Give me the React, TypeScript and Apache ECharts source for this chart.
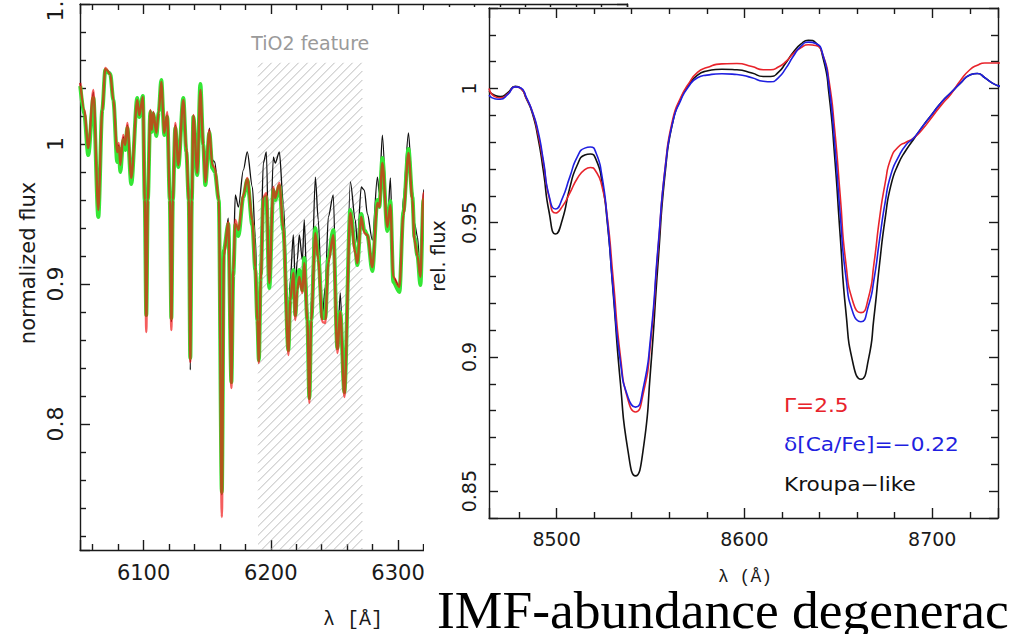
import { useEffect, useRef } from "react";
import * as echarts from "echarts";

// ---- Left panel: optical region around the TiO2 band (Å, normalized flux) ----
const optWave = [
  6050.2, 6053.4, 6056.5, 6060.5, 6064.4, 6067.5, 6069.9, 6073.8, 6076.2, 6079.3,
  6080.5, 6081.7, 6084.0, 6085.6, 6087.2, 6090.3, 6095.0, 6096.6, 6099.4, 6100.9,
  6102.1, 6103.3, 6105.3, 6106.4, 6107.6, 6110.0, 6111.9, 6113.9, 6116.3, 6118.6,
  6120.6, 6121.8, 6123.0, 6124.9, 6127.3, 6131.2, 6133.6, 6135.5, 6136.7, 6137.9,
  6139.1, 6142.2, 6144.6, 6146.9, 6148.5, 6151.7, 6154.0, 6156.0, 6159.1, 6161.5,
  6163.1, 6166.6, 6169.0, 6170.5, 6172.1, 6174.5, 6178.4, 6181.5, 6185.5, 6187.8,
  6189.4, 6190.6, 6192.1, 6194.1, 6196.5, 6198.8, 6202.0, 6203.5, 6206.7, 6209.8,
  6213.8, 6215.3, 6217.7, 6219.3, 6220.8, 6222.4, 6224.8, 6226.3, 6228.7, 6230.3,
  6231.8, 6235.0, 6237.3, 6240.5, 6242.8, 6245.2, 6249.1, 6252.3, 6254.6, 6257.8,
  6262.5, 6266.4, 6268.0, 6271.1, 6273.5, 6275.9, 6279.8, 6283.8, 6285.3, 6287.7,
  6291.6, 6294.0, 6296.3, 6301.1, 6304.2, 6308.2, 6311.3, 6312.9, 6315.3, 6317.6,
  6320.0, 6325.0, 6330.0,
];
const optBlack = [
  1.0436, 1.0243, 0.9957, 1.0371, 0.9507, 1.0243, 1.0529, 1.0514, 1.0314, 0.9907,
  0.9993, 0.9836, 1.005, 0.9979, 1.0136, 0.9743, 1.0314, 1.0193, 1.0336, 0.96,
  0.8779, 0.96, 1.0243, 1.01, 1.0229, 1.0064, 1.0243, 1.0443, 1.0079, 1.0207,
  0.96, 0.8729, 0.96, 1.0136, 0.9864, 1.0314, 0.9957, 0.96, 0.8386, 0.96,
  1.0207, 0.9793, 1.04, 1.0029, 0.9743, 1.0114, 0.9886, 0.9871, 0.96, 0.7493,
  0.9243, 0.9471, 0.8314, 0.9171, 0.9636, 0.955, 0.9814, 0.9943, 0.9693, 0.9336,
  0.8886, 0.8443, 0.9243, 0.9864, 0.9943, 0.9007, 0.9907, 0.9864, 0.9943, 0.9579,
  0.8743, 0.9029, 0.935, 0.8979, 0.9171, 0.935, 0.9171, 0.9457, 0.8886, 0.8207,
  0.8886, 0.9764, 0.9457, 0.8764, 0.8979, 0.9479, 0.9636, 0.8543, 0.8936, 0.8229,
  0.9729, 0.9457, 0.9293, 0.9693, 0.9671, 0.95, 0.9314, 0.9764, 0.965, 1.0064,
  0.9407, 0.9757, 0.905, 0.8979, 0.9621, 1.0079, 0.9671, 0.9436, 0.9336, 0.905,
  0.9671, 0.97, 0.95,
];
const optRed = [
  1.0436, 1.0243, 0.9971, 1.0386, 0.9529, 1.0243, 1.0543, 1.05, 1.0314, 0.9943,
  1.0007, 0.985, 1.0064, 0.9993, 1.015, 0.9757, 1.0314, 1.0207, 1.0336, 0.96,
  0.8657, 0.96, 1.0243, 1.01, 1.0229, 1.0079, 1.0229, 1.0443, 1.0079, 1.0229,
  0.96, 0.8671, 0.96, 1.015, 0.985, 1.0314, 0.9971, 0.96, 0.8443, 0.96,
  1.0207, 0.9793, 1.0386, 0.9993, 0.9729, 1.01, 0.985, 0.9829, 0.96, 0.7336,
  0.9207, 0.9443, 0.8257, 0.91, 0.9457, 0.9386, 0.9636, 0.9757, 0.9457, 0.9121,
  0.8743, 0.8436, 0.9029, 0.9621, 0.965, 0.9007, 0.9693, 0.9614, 0.9721, 0.9407,
  0.8493, 0.8886, 0.9079, 0.8743, 0.8957, 0.905, 0.8936, 0.915, 0.8743, 0.815,
  0.8743, 0.9364, 0.9171, 0.8729, 0.8721, 0.915, 0.935, 0.8507, 0.88, 0.8193,
  0.9507, 0.9221, 0.915, 0.9479, 0.9364, 0.935, 0.9121, 0.9579, 0.955, 0.9864,
  0.9407, 0.9564, 0.905, 0.8979, 0.9493, 0.9936, 0.96, 0.9314, 0.92, 0.905,
  0.965, 0.96, 0.94,
];
const optGreen = [
  1.0414, 1.0207, 0.9921, 1.0329, 0.9479, 1.0243, 1.0529, 1.05, 1.0314, 0.9871,
  0.9971, 0.98, 1.0029, 0.9957, 1.0114, 0.9714, 1.0329, 1.0193, 1.0343, 0.96,
  0.8779, 0.96, 1.0229, 1.0086, 1.0214, 1.0057, 1.0229, 1.0457, 1.0064, 1.0193,
  0.96, 0.8757, 0.96, 1.0114, 0.9836, 1.0329, 0.9943, 0.96, 0.8471, 0.96,
  1.0193, 0.9779, 1.0429, 0.9993, 0.9707, 1.0079, 0.9829, 0.98, 0.96, 0.7514,
  0.9243, 0.9429, 0.83, 0.9064, 0.9421, 0.9343, 0.9621, 0.9743, 0.9421, 0.91,
  0.8743, 0.8457, 0.9064, 0.96, 0.9621, 0.8971, 0.9671, 0.96, 0.97, 0.9386,
  0.8529, 0.8886, 0.91, 0.8779, 0.8993, 0.91, 0.8957, 0.9186, 0.8743, 0.8186,
  0.8743, 0.94, 0.92, 0.8757, 0.8757, 0.9186, 0.9386, 0.8543, 0.88, 0.8229,
  0.9529, 0.925, 0.9136, 0.95, 0.9386, 0.935, 0.9093, 0.96, 0.955, 0.99,
  0.9379, 0.9593, 0.9014, 0.8943, 0.9514, 0.9964, 0.9621, 0.9336, 0.92, 0.8993,
  0.96, 0.955, 0.94,
];
const tioBand = [6190, 6272];
const tioTop = 1.058;
const tioLabel = "TiO2 feature";

// ---- Right panel: Ca II triplet (Å, relative flux) ----
const catWave = [
  8464, 8467, 8470, 8474, 8478, 8481, 8484, 8487, 8490, 8493, 8496, 8499.5, 8503,
  8507, 8511, 8515, 8518, 8521, 8524, 8527, 8530, 8534, 8538, 8542, 8546, 8550,
  8554, 8558, 8562, 8566, 8570, 8575, 8580, 8588, 8596, 8604, 8610, 8614, 8618,
  8622, 8626, 8630, 8634, 8638, 8642, 8645, 8648, 8651, 8654, 8658, 8662, 8666,
  8669, 8672, 8675, 8678, 8682, 8686, 8690, 8695, 8700, 8705, 8710, 8715, 8720,
  8724, 8728, 8732, 8736,
];
const catKroupa = [
  0.999, 0.9975, 0.997, 0.9985, 1.0008, 1.0, 0.996, 0.991, 0.982, 0.969, 0.954, 0.9458, 0.951,
  0.963, 0.9715, 0.9752, 0.9756, 0.9735, 0.966, 0.95, 0.925, 0.89, 0.865, 0.8557, 0.865, 0.895,
  0.935, 0.97, 0.988, 0.996, 1.001, 1.005, 1.0065, 1.0072, 1.007, 1.0058, 1.0045, 1.0045, 1.006,
  1.0095, 1.0135, 1.0165, 1.018, 1.017, 1.011, 0.998, 0.975, 0.945, 0.917, 0.897, 0.8917, 0.899,
  0.915, 0.935, 0.952, 0.964, 0.972, 0.977, 0.981, 0.986, 0.9905, 0.995, 0.9985, 1.002, 1.005,
  1.0056, 1.004, 1.002, 1.0008,
];
const catGamma = [
  1.0, 0.997, 0.9965, 0.998, 1.0006, 1.0, 0.9962, 0.9915, 0.9835, 0.972, 0.9595, 0.9536, 0.956,
  0.961, 0.9665, 0.9698, 0.9706, 0.969, 0.964, 0.952, 0.93, 0.9, 0.884, 0.8795, 0.886, 0.905,
  0.94, 0.972, 0.989, 0.9965, 1.0015, 1.006, 1.0078, 1.0092, 1.0093, 1.0082, 1.007, 1.007, 1.008,
  1.01, 1.013, 1.0152, 1.0163, 1.016, 1.012, 1.003, 0.985, 0.96, 0.935, 0.92, 0.9165, 0.922,
  0.935, 0.952, 0.965, 0.974, 0.9783, 0.98, 0.9815, 0.985, 0.9895, 0.994, 0.998, 1.003, 1.007,
  1.0087, 1.0095, 1.0095, 1.0095,
];
const catCaFe = [
  0.9975, 0.9962, 0.996, 0.9978, 1.0006, 1.0002, 0.9965, 0.9915, 0.9845, 0.973, 0.96, 0.9551, 0.959,
  0.967, 0.9745, 0.9778, 0.9782, 0.976, 0.968, 0.951, 0.926, 0.898, 0.885, 0.8813, 0.888, 0.907,
  0.941, 0.9715, 0.988, 0.9955, 1.0005, 1.004, 1.005, 1.0055, 1.0052, 1.004, 1.0027, 1.0025, 1.004,
  1.0075, 1.012, 1.0157, 1.0173, 1.0168, 1.012, 1.001, 0.98, 0.953, 0.93, 0.916, 0.9131, 0.919,
  0.929, 0.944, 0.958, 0.968, 0.9745, 0.979, 0.9815, 0.986, 0.9905, 0.995, 0.9985, 1.002, 1.005,
  1.0056, 1.004, 1.002, 1.0008,
];
const catLegend = ["Γ=2.5", "δ[Ca/Fe]=−0.22", "Kroupa−like"];
const catColors = ["#e8232b", "#1f1fe0", "#111111"];

const leftX = { min: 6050, max: 6480 };
const leftY = { min: 0.71, max: 1.1 };
const rightX = { min: 8464, max: 8735 };
const rightY = { min: 0.84, max: 1.03 };

const ink = "#1a1a1a";
const sans = "DejaVu Sans";
const mono = "Liberation Mono";

const pairs = (xs: number[], ys: number[]) => xs.map((x, i) => [x, ys[i]]);

function frameAxis(
  kind: "x" | "y",
  grid: number,
  position: string,
  range: { min: number; max: number },
  splitNumber: number,
  labels: null | { fontSize: number; margin: number; fmt: (v: number) => string },
  z: number,
  tickLen: number,
  minorLen: number
) {
  const line = { color: ink, width: 1.4 };
  return {
    type: "value",
    gridIndex: grid,
    position,
    min: range.min,
    max: range.max,
    splitNumber,
    z,
    axisLine: { show: true, onZero: false, lineStyle: line },
    axisTick: { show: true, inside: true, length: tickLen, lineStyle: line },
    minorTick: { show: true, splitNumber: 5, length: minorLen, lineStyle: line },
    splitLine: { show: false },
    minorSplitLine: { show: false },
    axisLabel: labels
      ? {
          show: true,
          rotate: kind === "y" ? 90 : 0,
          margin: labels.margin,
          fontSize: labels.fontSize,
          fontFamily: sans,
          color: ink,
          formatter: labels.fmt,
        }
      : { show: false },
  };
}

const fmtLeftX = (v: number) => (Math.abs(v % 100) < 1e-6 ? String(Math.round(v)) : "");
const fmtLeftY = (v: number) => {
  const r = Math.round(v * 100);
  return r % 10 === 0 && Math.abs(v * 100 - r) < 1e-6 ? String(r / 100) : "";
};
const fmtRightY = (v: number) => {
  const r = Math.round(v * 100);
  return r % 5 === 0 && Math.abs(v * 100 - r) < 1e-6 ? String(r / 100) : "";
};

export default function App() {
  const ref = useRef<HTMLDivElement>(null);

  useEffect(() => {
    if (!ref.current) return;
    const chart = echarts.init(ref.current, undefined, { renderer: "svg" });

    // Diagonal hatching over the TiO2 band, plus its caption above the band
    const hatch = {
      type: "custom",
      xAxisIndex: 0,
      yAxisIndex: 0,
      z: 1,
      silent: true,
      encode: { x: [0, 1], y: 2 },
      data: [[tioBand[0], tioBand[1], tioTop]],
      renderItem: (_p: any, api: any) => {
        const a = api.coord([api.value(0), api.value(2)]);
        const b = api.coord([api.value(1), leftY.min]);
        const x0 = a[0];
        const x1 = b[0];
        const t = a[1];
        const bt = b[1];
        const step = 9;
        const children: any[] = [];
        for (let k = x0 + t + step / 2; k < x1 + bt; k += step) {
          const xs = Math.max(x0, k - bt);
          const xe = Math.min(x1, k - t);
          if (xe <= xs) continue;
          children.push({
            type: "line",
            shape: { x1: xs, y1: k - xs, x2: xe, y2: k - xe },
            style: { stroke: "#b4b4b4", lineWidth: 0.9 },
          });
        }
        children.push({
          type: "text",
          x: (x0 + x1) / 2,
          y: t - 10,
          style: {
            text: tioLabel,
            fontSize: 19,
            fontFamily: sans,
            fill: "#9a9a9a",
            align: "center",
            verticalAlign: "bottom",
          },
        });
        return { type: "group", children };
      },
    };

    const leftLine = (data: number[], color: string, width: number, z: number, opacity = 1) => ({
      type: "line",
      xAxisIndex: 0,
      yAxisIndex: 0,
      data: pairs(optWave, data),
      showSymbol: false,
      symbol: "none",
      smooth: 0.3,
      smoothMonotone: "x",
      z,
      lineStyle: { color, width, opacity },
    });

    const rightLine = (data: number[], color: string, z: number) => ({
      type: "line",
      xAxisIndex: 2,
      yAxisIndex: 2,
      data: pairs(catWave, data),
      showSymbol: false,
      symbol: "none",
      smooth: 0.6,
      z,
      lineStyle: { color, width: 1.6 },
    });

    chart.setOption({
      animation: false,
      backgroundColor: "#ffffff",
      textStyle: { fontFamily: sans },
      grid: [
        { left: 80, top: 4, width: 547, height: 546, outerBoundsMode: "none", containLabel: false },
        { left: 489, top: 8, width: 509, height: 510, outerBoundsMode: "none", containLabel: false },
      ],
      xAxis: [
        frameAxis("x", 0, "bottom", leftX, 4, { fontSize: 21, margin: 12, fmt: fmtLeftX }, 0, 10, 6),
        frameAxis("x", 0, "top", leftX, 4, null, 0, 10, 6),
        frameAxis("x", 1, "bottom", rightX, 3, { fontSize: 19, margin: 11, fmt: fmtLeftX }, 10, 10, 6),
        frameAxis("x", 1, "top", rightX, 3, null, 10, 10, 6),
      ],
      yAxis: [
        frameAxis("y", 0, "left", leftY, 4, { fontSize: 22, margin: 14, fmt: fmtLeftY }, 0, 10, 6),
        frameAxis("y", 0, "right", leftY, 4, null, 0, 10, 6),
        frameAxis("y", 1, "left", rightY, 4, { fontSize: 19, margin: 11, fmt: fmtRightY }, 10, 9, 7),
        frameAxis("y", 1, "right", rightY, 4, null, 10, 9, 7),
      ],
      series: [
        hatch,
        leftLine(optBlack, "#111111", 1.3, 2),
        leftLine(optGreen, "#35e635", 4, 3),
        leftLine(optRed, "#f01010", 2.4, 4, 0.68),
        rightLine(catKroupa, catColors[2], 10),
        rightLine(catGamma, catColors[0], 11),
        rightLine(catCaFe, catColors[1], 12),
      ],
      graphic: {
        elements: [
          {
            type: "text",
            x: 28,
            y: 263,
            rotation: Math.PI / 2,
            z: 10,
            style: { text: "normalized flux", fontSize: 21, fontFamily: sans, fill: ink, align: "center", verticalAlign: "middle" },
          },
          {
            type: "text",
            x: 353,
            y: 619,
            z: 10,
            style: { text: "λ [Å]", fontSize: 20, fontFamily: mono, fill: ink, align: "center", verticalAlign: "middle" },
          },
          {
            // white backing of the Ca II panel, laid over the optical panel
            type: "rect",
            z: 5,
            silent: true,
            shape: { x: 424, y: 7, width: 600, height: 640 },
            style: { fill: "#ffffff" },
          },
          {
            type: "text",
            x: 438,
            y: 256,
            rotation: Math.PI / 2,
            z: 10,
            style: { text: "rel. flux", fontSize: 19, fontFamily: sans, fill: ink, align: "center", verticalAlign: "middle" },
          },
          {
            type: "text",
            x: 745,
            y: 577,
            z: 10,
            style: { text: "λ (Å)", fontSize: 18, lineHeight: 18, fontFamily: mono, fill: ink, align: "center", verticalAlign: "middle" },
          },
          ...catLegend.map((t, i) => ({
            type: "text",
            x: 784,
            y: 405 + i * 39.5,
            z: 10,
            scaleX: 1.14,
            style: { text: t, fontSize: 19, fontFamily: sans, fill: catColors[i], align: "left", verticalAlign: "middle" },
          })),
          {
            type: "text",
            x: 437,
            y: 610,
            z: 10,
            style: {
              text: "IMF-abundance degeneracy",
              fontSize: 53.5,
              lineHeight: 38,
              fontFamily: "Liberation Serif",
              fill: "#000000",
              align: "left",
              verticalAlign: "middle",
            },
          },
        ],
      },
    });

    return () => chart.dispose();
  }, []);

  return (
    <div
      ref={ref}
      style={{ position: "fixed", left: 0, top: 0, width: 1009, height: 634, background: "#fff" }}
    />
  );
}
